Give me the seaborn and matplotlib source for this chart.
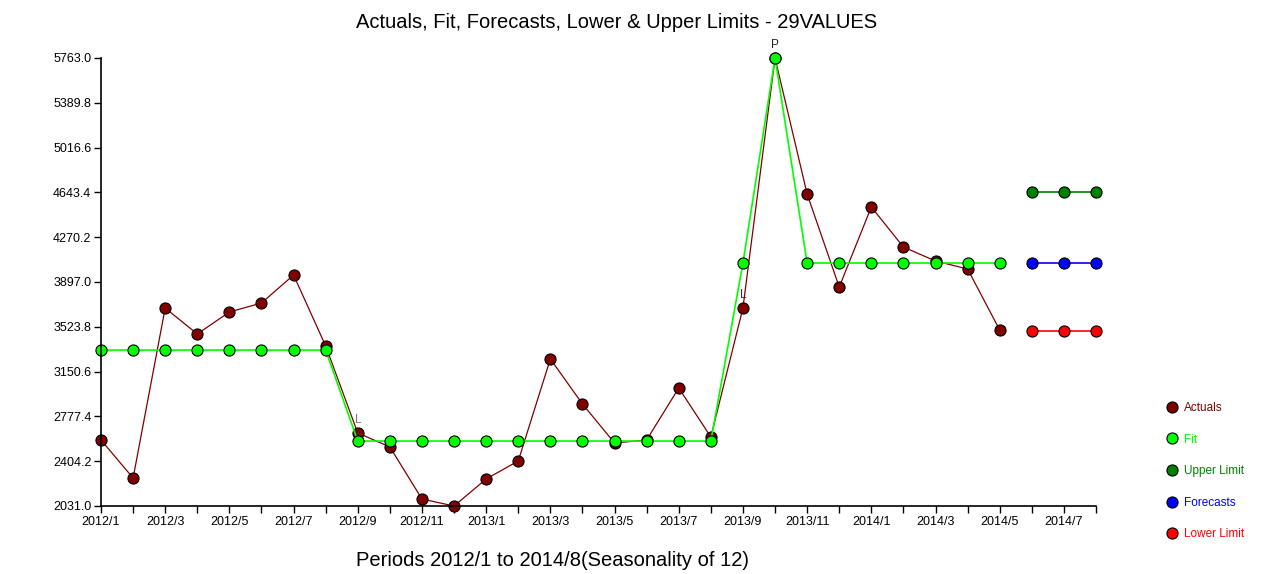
import matplotlib

matplotlib.use("Agg")
import matplotlib.pyplot as plt
import numpy as np
import pandas as pd
import seaborn as sns
from matplotlib.lines import Line2D

periods = [
    "2012/1", "2012/2", "2012/3", "2012/4", "2012/5", "2012/6", "2012/7", "2012/8",
    "2012/9", "2012/10", "2012/11", "2012/12", "2013/1", "2013/2", "2013/3", "2013/4",
    "2013/5", "2013/6", "2013/7", "2013/8", "2013/9", "2013/10", "2013/11", "2013/12",
    "2014/1", "2014/2", "2014/3", "2014/4", "2014/5", "2014/6", "2014/7", "2014/8",
]
actuals = [2581, 2264, 3680, 3464, 3647, 3722, 3955, 3364,
           2639, 2523, 2089, 2031, 2256, 2406, 3256, 2881,
           2556, 2581, 3014, 2606, 3680, 5763, 4630, 3855,
           4522, 4188, 4072, 4005, 3497]
fit = [3330, 3330, 3330, 3330, 3330, 3330, 3330, 3330,
       2572, 2572, 2572, 2572, 2572, 2572, 2572, 2572,
       2572, 2572, 2572, 2572, 4055, 5763, 4055, 4055,
       4055, 4055, 4055, 4055, 4055]
forecasts = [4055, 4055, 4055]
upper = [4643, 4643, 4643]
lower = [3489, 3489, 3489]

y_min, y_max = 2031.0, 5763.0
y_ticks = [2031.0, 2404.2, 2777.4, 3150.6, 3523.8, 3897.0, 4270.2, 4643.4, 5016.6, 5389.8, 5763.0]

c_act, c_fit, c_up, c_fc, c_lo = "#800000", "#00ff00", "#008000", "#0000ff", "#ff0000"

sns.set_style("ticks")
plt.rcParams["font.family"] = ["Liberation Sans", "DejaVu Sans"]

fig = plt.figure(figsize=(12.61, 5.74), dpi=100)
ax = fig.add_axes([101 / 1261, 1 - 506 / 574, 995 / 1261, 448 / 574])

n_act = len(actuals)
x_act = np.arange(n_act)
x_fc = np.arange(n_act, n_act + len(forecasts))

mk = dict(marker="o", markersize=8, markeredgecolor="black", markeredgewidth=0.8, clip_on=False)
sns.lineplot(x=x_act, y=actuals, color=c_act, linewidth=0.9, ax=ax, **mk)
sns.lineplot(x=x_act, y=fit, color=c_fit, linewidth=1.2, ax=ax, **mk)
sns.lineplot(x=x_fc, y=upper, color=c_up, linewidth=1.2, ax=ax, **mk)
sns.lineplot(x=x_fc, y=forecasts, color=c_fc, linewidth=1.2, ax=ax, **mk)
sns.lineplot(x=x_fc, y=lower, color=c_lo, linewidth=1.2, ax=ax, **mk)

# point annotations
ax.text(8, actuals[8] + 60, "L", color="#6b7b8c", fontsize=8.5, ha="center", va="bottom")
ax.text(20, actuals[20] + 60, "L", color="#3a2a4a", fontsize=8.5, ha="center", va="bottom")
ax.text(21, fit[21] + 60, "P", color="#222222", fontsize=8.5, ha="center", va="bottom")

ax.set_xlim(0, len(periods) - 1)
ax.set_ylim(y_min, y_max)
ax.set_xticks(np.arange(len(periods)))
ax.set_xticklabels([p if i % 2 == 0 else "" for i, p in enumerate(periods)], fontsize=9)
ax.set_yticks(y_ticks)
ax.set_yticklabels([f"{v:.1f}" for v in y_ticks], fontsize=9)
ax.tick_params(length=5, width=1, color="black", labelcolor="black", pad=2)
sns.despine(ax=ax)
for s in ("left", "bottom"):
    ax.spines[s].set_linewidth(1.2)
    ax.spines[s].set_color("black")

fig.text(617 / 1261, 1 - 22 / 574, "Actuals, Fit, Forecasts, Lower & Upper Limits - 29VALUES",
         ha="center", va="center", fontsize=14.5, color="black")
fig.text(552 / 1261, 1 - 560 / 574, "Periods 2012/1 to 2014/8(Seasonality of 12)",
         ha="center", va="center", fontsize=14.5, color="black")

handles = [Line2D([], [], linestyle="none", marker="o", markersize=8,
                  markerfacecolor=c, markeredgecolor="black", markeredgewidth=0.8)
           for c in (c_act, c_fit, c_up, c_fc, c_lo)]
labels = ["Actuals", "Fit", "Upper Limit", "Forecasts", "Lower Limit"]
fig.legend(handles, labels, loc="upper left", bbox_to_anchor=(1166 / 1261, 1 - 402 / 574),
           frameon=False, fontsize=8.5, handlelength=1, handletextpad=0.5, borderpad=0,
           borderaxespad=0, labelspacing=1.66,
           labelcolor=[c_act, c_fit, c_up, c_fc, c_lo])

fig.savefig("out.png", dpi=100)
